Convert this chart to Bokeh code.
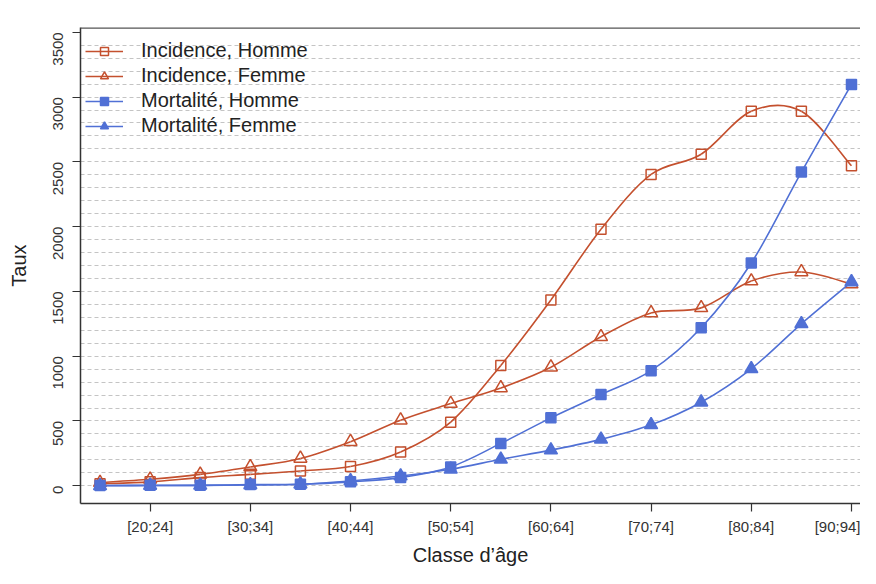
import math
from bokeh.plotting import figure
from bokeh.models import (ColumnDataSource, FixedTicker, Legend, LegendItem, Range1d, Span)
from bokeh.embed import file_html
from bokeh.resources import INLINE

# ---------------- data ----------------
categories = ["[15;19]", "[20;24]", "[25;29]", "[30;34]", "[35;39]", "[40;44]",
              "[45;49]", "[50;54]", "[55;59]", "[60;64]", "[65;69]", "[70;74]",
              "[75;79]", "[80;84]", "[85;89]", "[90;94]"]
incidence_homme = [15, 30, 63, 88, 114, 148, 260, 491, 929, 1434, 1980, 2403,
                   2559, 2890, 2890, 2470]
incidence_femme = [25, 50, 88, 145, 211, 340, 506, 634, 755, 915, 1150, 1334,
                   1373, 1580, 1650, 1557]
mortalite_homme = [2, 3, 3, 9, 12, 30, 63, 145, 327, 524, 704, 888,
                   1219, 1719, 2421, 3098]
mortalite_femme = [0, 2, 3, 6, 12, 37, 75, 127, 204, 275, 358, 470,
                   645, 903, 1250, 1573]
labeled_ticks = [1, 3, 5, 7, 9, 11, 13, 15]
y_ticks = [0, 500, 1000, 1500, 2000, 2500, 3000, 3500]
grid_step = 100

RED = "#C4502E"
BLUE = "#5070D5"
FONT = "Liberation Sans"

Y_TOP = 3537
p = figure(width=860, height=568, output_backend="svg", toolbar_location=None,
           x_range=Range1d(-0.39, 15.18), y_range=Range1d(-137, Y_TOP),
           min_border_left=80, min_border_right=0, min_border_top=27,
           min_border_bottom=64)
p.outline_line_color = None
p.background_fill_color = "white"
p.border_fill_color = "white"

# grid
p.xgrid.visible = False
p.ygrid.ticker = FixedTicker(ticks=list(range(0, 3500, grid_step)))
p.ygrid.grid_line_color = "#c4c4c4"
p.ygrid.grid_line_dash = "4 3"
p.ygrid.grid_line_width = 1

# top border line
p.add_layout(Span(location=Y_TOP, dimension="width", line_color="#555555", line_width=2.5))

# axes
p.xaxis.ticker = FixedTicker(ticks=labeled_ticks)
p.xaxis.major_label_overrides = {i: categories[i] for i in labeled_ticks}
p.yaxis.ticker = FixedTicker(ticks=y_ticks)
for ax in (p.xaxis[0], p.yaxis[0]):
    ax.axis_line_color = "#333333"
    ax.axis_line_width = 1.5
    ax.major_tick_line_color = "#333333"
    ax.major_tick_line_width = 1.2
    ax.major_tick_out = 8
    ax.major_tick_in = 0
    ax.minor_tick_out = 0
    ax.minor_tick_in = 0
    ax.major_label_text_font = FONT
    ax.major_label_text_font_size = "15px"
    ax.major_label_text_color = "#333333"
    ax.axis_label_text_font = FONT
    ax.axis_label_text_font_size = "20px"
    ax.axis_label_text_font_style = "normal"
    ax.axis_label_text_color = "#222222"
p.yaxis.major_label_orientation = math.pi / 2
p.xaxis.major_label_standoff = 6
p.yaxis.major_label_standoff = 14
p.xaxis.axis_label = "Classe d’âge"
p.yaxis.axis_label = "Taux"
p.xaxis.axis_label_standoff = 6
p.yaxis.axis_label_standoff = 16


def smooth_curve(values, color):
    """Catmull-Rom bezier segments passing through every data point."""
    n = len(values)
    xs = list(range(n))
    x0, y0, x1, y1, cx0, cy0, cx1, cy1 = [], [], [], [], [], [], [], []
    for i in range(n - 1):
        pm = i - 1 if i > 0 else i
        pp = i + 2 if i + 2 < n else i + 1
        x0.append(xs[i]); y0.append(values[i])
        x1.append(xs[i + 1]); y1.append(values[i + 1])
        cx0.append(xs[i] + (xs[i + 1] - xs[pm]) / 6)
        cy0.append(values[i] + (values[i + 1] - values[pm]) / 6)
        cx1.append(xs[i + 1] - (xs[pp] - xs[i]) / 6)
        cy1.append(values[i + 1] - (values[pp] - values[i]) / 6)
    src = ColumnDataSource(dict(x0=x0, y0=y0, x1=x1, y1=y1,
                                cx0=cx0, cy0=cy0, cx1=cx1, cy1=cy1))
    return p.bezier(x0="x0", y0="y0", x1="x1", y1="y1", cx0="cx0", cy0="cy0",
                    cx1="cx1", cy1="cy1", source=src, line_color=color,
                    line_width=1.6)


series = [
    ("Incidence, Homme", incidence_homme, RED, "square", False, 10),
    ("Incidence, Femme", incidence_femme, RED, "triangle", False, 13),
    ("Mortalité, Homme", mortalite_homme, BLUE, "square", True, 10),
    ("Mortalité, Femme", mortalite_femme, BLUE, "triangle", True, 13),
]

items = []
for label, vals, color, marker, filled, size in series:
    r_line = smooth_curve(vals, color)
    src = ColumnDataSource(dict(x=list(range(len(vals))), y=vals))
    r_pts = p.scatter("x", "y", source=src, marker=marker, size=size,
                      line_color=color, line_width=1.5,
                      fill_color=color if filled else "white",
                      fill_alpha=1.0 if filled else 0.0)
    items.append(LegendItem(label=label, renderers=[r_line, r_pts]))

legend = Legend(items=items, location=(5, 366),
                label_text_font=FONT, label_text_font_size="20px",
                label_text_color="#222222", label_height=20,
                border_line_color=None, background_fill_alpha=0,
                glyph_width=38, glyph_height=20, spacing=2,
                label_standoff=18, padding=0, margin=0)
p.add_layout(legend, "center")

open("out.html", "w").write(file_html(p, INLINE))
